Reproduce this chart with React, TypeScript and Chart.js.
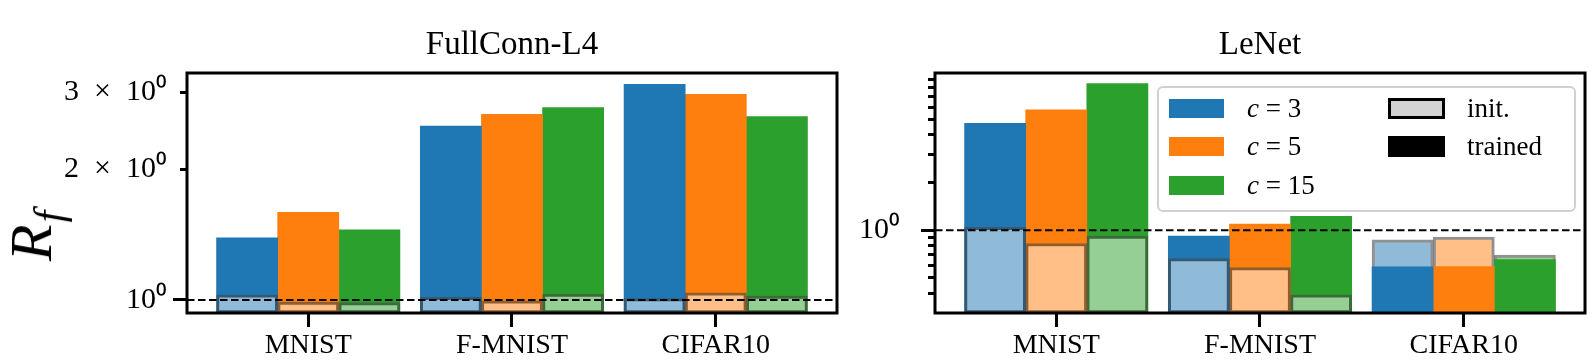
import React, { useEffect, useRef } from "react";
import { Chart, registerables } from "chart.js";

Chart.register(...registerables);

// ---------------- data ----------------
const categories = ["MNIST", "F-MNIST", "CIFAR10"];
const seriesLabels = ["c = 3", "c = 5", "c = 15"];
const stateLabels = ["init.", "trained"];

// FullConn-L4
const fcTrainedC3 = [1.39, 2.51, 3.13];
const fcTrainedC5 = [1.59, 2.67, 2.97];
const fcTrainedC15 = [1.45, 2.77, 2.64];
const fcInitC3 = [1.028, 1.014, 1.007];
const fcInitC5 = [0.989, 0.996, 1.039];
const fcInitC15 = [0.986, 1.032, 1.021];

// LeNet
const lnTrainedC3 = [4.74, 0.92, 0.588];
const lnTrainedC5 = [5.77, 1.093, 0.59];
const lnTrainedC15 = [8.44, 1.224, 0.652];
const lnInitC3 = [1.043, 0.661, 0.869];
const lnInitC5 = [0.825, 0.58, 0.906];
const lnInitC15 = [0.919, 0.391, 0.697];

// y ticks
const fcYTicks = [1, 2, 3];
const fcYTickLabels = ["10⁰", "2\u2002×\u200210⁰", "3\u2002×\u200210⁰"];
const lnYTicks = [0.4, 0.5, 0.6, 0.7, 0.8, 0.9, 1, 2, 3, 4, 5, 6, 7, 8, 9];
const lnYTickLabels = ["", "", "", "", "", "", "10⁰", "", "", "", "", "", "", "", ""];

const referenceLevel = 1;

// ---------------- styles ----------------
const SOLID = ["#1f77b4", "#ff7f0e", "#2ca02c"];
const LIGHT = ["#8fbbd9", "#ffbf86", "#95cf95"];
const EDGE = "rgba(70,70,70,0.6)";
const FONT = "'Liberation Serif', 'Times New Roman', serif";
const X_MIN = -0.595;
const X_MAX = 2.595;
const BAR_STEP = 0.3;

function buildDatasets(trained: number[][], init: number[][]) {
  const ds: any[] = [
    {
      type: "line",
      data: [
        { x: X_MIN, y: referenceLevel },
        { x: X_MAX, y: referenceLevel },
      ],
      borderColor: "#000",
      borderWidth: 2,
      borderDash: [7.5, 3.5],
      pointRadius: 0,
      order: 0,
    },
  ];
  trained.forEach((tr, j) => {
    const off = (j - 1) * BAR_STEP;
    const ini = init[j];
    const initBehind = tr.map((t, i) => ini[i] > t);
    const common = {
      type: "bar",
      grouped: false,
      barPercentage: 1,
      categoryPercentage: 1,
      borderColor: EDGE,
      borderSkipped: false,
    };
    ds.push({
      ...common,
      label: seriesLabels[j] + " back",
      order: 2,
      data: tr.map((t, i) => ({ x: i + off, y: Math.max(t, ini[i]) })),
      backgroundColor: initBehind.map((b) => (b ? LIGHT[j] : SOLID[j])),
      borderWidth: initBehind.map((b) => (b ? 3 : 0)),
    });
    ds.push({
      ...common,
      label: seriesLabels[j] + " front",
      order: 1,
      data: tr.map((t, i) => ({ x: i + off, y: Math.min(t, ini[i]) })),
      backgroundColor: initBehind.map((b) => (b ? SOLID[j] : LIGHT[j])),
      borderWidth: initBehind.map((b) => (b ? 0 : 3)),
    });
  });
  return ds;
}

const framePlugin = {
  id: "frame",
  afterDraw(chart: any) {
    const { ctx, chartArea: a } = chart;
    ctx.save();
    ctx.lineWidth = 3;
    ctx.strokeStyle = "#000";
    ctx.strokeRect(a.left, a.top, a.right - a.left, a.bottom - a.top);
    ctx.restore();
  },
};

function makeConfig(opts: {
  title: string;
  trained: number[][];
  init: number[][];
  yMin: number;
  yMax: number;
  yTicks: number[];
  yLabels: string[];
  yPad: number;
  yAxisWidth: number;
  padRight: number;
}) {
  return {
    type: "bar",
    data: { datasets: buildDatasets(opts.trained, opts.init) },
    plugins: [framePlugin],
    options: {
      animation: false,
      responsive: false,
      devicePixelRatio: 1,
      events: [],
      layout: { padding: { left: 0, right: opts.padRight, top: 0, bottom: 0 } },
      plugins: {
        legend: { display: false },
        tooltip: { enabled: false },
        title: {
          display: true,
          text: opts.title,
          fullSize: false,
          color: "#000",
          font: { family: FONT, size: 33, weight: "normal", lineHeight: 1.2 },
          padding: { top: 26, bottom: 7.4 },
        },
      },
      scales: {
        x: {
          type: "linear",
          min: X_MIN,
          max: X_MAX,
          offset: false,
          afterBuildTicks: (s: any) => {
            s.ticks = categories.map((_, i) => ({ value: i }));
          },
          afterFit: (s: any) => {
            s.height = 49;
          },
          ticks: {
            autoSkip: false,
            maxRotation: 0,
            color: "#000",
            padding: 2,
            font: { family: FONT, size: 28 },
            callback: (_v: any, i: number) => categories[i],
          },
          grid: {
            display: true,
            offset: false,
            drawOnChartArea: false,
            drawTicks: true,
            tickLength: 14,
            tickWidth: 3,
            tickColor: "#000",
          },
          border: { display: false },
        },
        y: {
          type: "logarithmic",
          min: opts.yMin,
          max: opts.yMax,
          afterBuildTicks: (s: any) => {
            s.ticks = opts.yTicks.map((v) => ({ value: v }));
          },
          afterFit: (s: any) => {
            s.width = opts.yAxisWidth;
          },
          ticks: {
            autoSkip: false,
            color: "#000",
            padding: opts.yPad,
            font: { family: FONT, size: 30 },
            callback: (_v: any, i: number) => opts.yLabels[i],
          },
          grid: {
            display: true,
            drawOnChartArea: false,
            drawTicks: true,
            tickLength: 14,
            tickWidth: 3,
            tickColor: "#000",
            tickBorderDash: (ctx: any) =>
              ctx.tick && ctx.tick.value === referenceLevel ? [] : [0, 7, 40, 0],
          },
          border: { display: false },
        },
      },
    },
  };
}

function Panel(props: { config: any; left: number; width: number }) {
  const ref = useRef<HTMLCanvasElement | null>(null);
  useEffect(() => {
    if (!ref.current) return;
    const chart = new Chart(ref.current, props.config);
    return () => chart.destroy();
  }, []);
  return (
    <canvas
      ref={ref}
      width={props.width}
      height={362}
      style={{ position: "absolute", left: props.left, top: 0, width: props.width, height: 362 }}
    />
  );
}

function MathLabel({ text }: { text: string }) {
  const [v, n] = text.split(" = ");
  return (
    <span>
      <i>{v}</i>
      {" = "}
      {n}
    </span>
  );
}

export default function App() {
  const fcConfig = makeConfig({
    title: "FullConn-L4",
    trained: [fcTrainedC3, fcTrainedC5, fcTrainedC15],
    init: [fcInitC3, fcInitC5, fcInitC15],
    yMin: 0.9335,
    yMax: 3.325,
    yTicks: fcYTicks,
    yLabels: fcYTickLabels,
    yPad: 6,
    yAxisWidth: 187,
    padRight: 9,
  });
  const lnConfig = makeConfig({
    title: "LeNet",
    trained: [lnTrainedC3, lnTrainedC5, lnTrainedC15],
    init: [lnInitC3, lnInitC5, lnInitC15],
    yMin: 0.334,
    yMax: 9.85,
    yTicks: lnYTicks,
    yLabels: lnYTickLabels,
    yPad: 21,
    yAxisWidth: 89,
    padRight: 7,
  });

  const rowCenters = [20.3, 58.7, 97];
  return (
    <div
      style={{
        position: "absolute",
        left: 0,
        top: 0,
        width: 1592,
        height: 362,
        background: "#fff",
        overflow: "hidden",
        fontFamily: FONT,
      }}
    >
      <Panel config={fcConfig} left={0} width={846} />
      <Panel config={lnConfig} left={846} width={746} />

      {/* y-axis label R_f */}
      <div
        style={{
          position: "absolute",
          left: 40,
          top: 236,
          transform: "translate(-50%, -50%) rotate(-90deg)",
          fontSize: 60,
          lineHeight: "60px",
          whiteSpace: "nowrap",
          color: "#000",
        }}
      >
        <i>R</i>
        <sub style={{ fontSize: 42, verticalAlign: "-12px", marginLeft: 2 }}>
          <i>f</i>
        </sub>
      </div>

      {/* legend */}
      <div
        style={{
          position: "absolute",
          left: 1157,
          top: 86,
          width: 419,
          height: 126,
          boxSizing: "border-box",
          border: "2px solid #d0d0d0",
          borderRadius: 6,
          background: "rgba(255,255,255,0.85)",
          fontSize: 27,
          color: "#000",
        }}
      >
        {seriesLabels.map((lab, j) => (
          <div
            key={lab}
            style={{
              position: "absolute",
              left: 10,
              top: rowCenters[j] - 16,
              height: 32,
              display: "flex",
              alignItems: "center",
              whiteSpace: "nowrap",
            }}
          >
            <div style={{ width: 55, height: 19, background: SOLID[j] }} />
            <div style={{ marginLeft: 23 }}>
              <MathLabel text={lab} />
            </div>
          </div>
        ))}
        {stateLabels.map((lab, k) => (
          <div
            key={lab}
            style={{
              position: "absolute",
              left: 229,
              top: rowCenters[k] - 16,
              height: 32,
              display: "flex",
              alignItems: "center",
              whiteSpace: "nowrap",
            }}
          >
            <div
              style={{
                width: 57,
                height: 21,
                boxSizing: "border-box",
                background: k === 0 ? "#d3d3d3" : "#000",
                border: "3px solid #000",
              }}
            />
            <div style={{ marginLeft: 22 }}>{lab}</div>
          </div>
        ))}
      </div>
    </div>
  );
}
